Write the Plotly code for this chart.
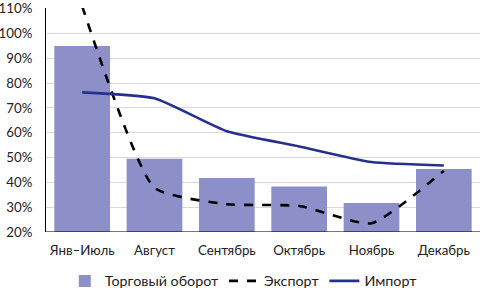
import plotly.graph_objects as go

categories = ["Янв–Июль", "Август", "Сентябрь", "Октябрь", "Ноябрь", "Декабрь"]
turnover = [95.0, 49.5, 41.8, 38.3, 31.7, 45.4]
export = [111.0, 37.8, 31.2, 30.5, 23.5, 44.7]
imports = [76.3, 73.9, 60.6, 54.5, 48.2, 46.8]
y_ticks = [20, 30, 40, 50, 60, 70, 80, 90, 100, 110]

FONT = "Lato, Carlito, Calibri, sans-serif"

fig = go.Figure()
fig.add_trace(go.Bar(x=categories, y=turnover, name="Торговый оборот",
                     marker=dict(color="#8d8fc9", line=dict(width=0))))
fig.add_trace(go.Scatter(x=categories, y=export, name="Экспорт", mode="lines",
                         line=dict(color="#000000", width=2.6, dash="dash", shape="spline", smoothing=0.5)))
fig.add_trace(go.Scatter(x=categories, y=imports, name="Импорт", mode="lines",
                         line=dict(color="#27318b", width=2.6, shape="spline", smoothing=0.5)))

fig.update_layout(
    width=480, height=288,
    margin=dict(l=46, r=0, t=8, b=56),
    paper_bgcolor="white", plot_bgcolor="white",
    font=dict(family=FONT, size=13.3, color="#222222"),
    bargap=0.23,
    showlegend=True,
    legend=dict(orientation="h", xref="container", yref="container", x=0.135, y=0.024,
                xanchor="left", yanchor="middle", font=dict(size=14.3), itemwidth=30,
                traceorder="normal"),
    xaxis=dict(showline=False, ticks="", tickfont=dict(size=13.3), automargin=False,
               ticklabelstandoff=9),
    yaxis=dict(range=[19.99, 110.3], tickvals=y_ticks, ticktext=[f"{v}%" for v in y_ticks],
               showgrid=True, gridcolor="#d9d9d9", gridwidth=1,
               showline=True, linecolor="#000000", linewidth=1,
               zeroline=False, tickfont=dict(size=13.3), ticklen=0, automargin=False,
               ticklabelstandoff=10, ticklabeloverflow="allow"),
)
fig.add_shape(type="line", xref="paper", yref="y", x0=0, x1=1, y0=20, y1=20,
              line=dict(color="#000000", width=1))
fig.write_html("out.html", config={"displayModeBar": False},
               post_script="document.body.style.margin='0';document.body.style.overflow='hidden';")
